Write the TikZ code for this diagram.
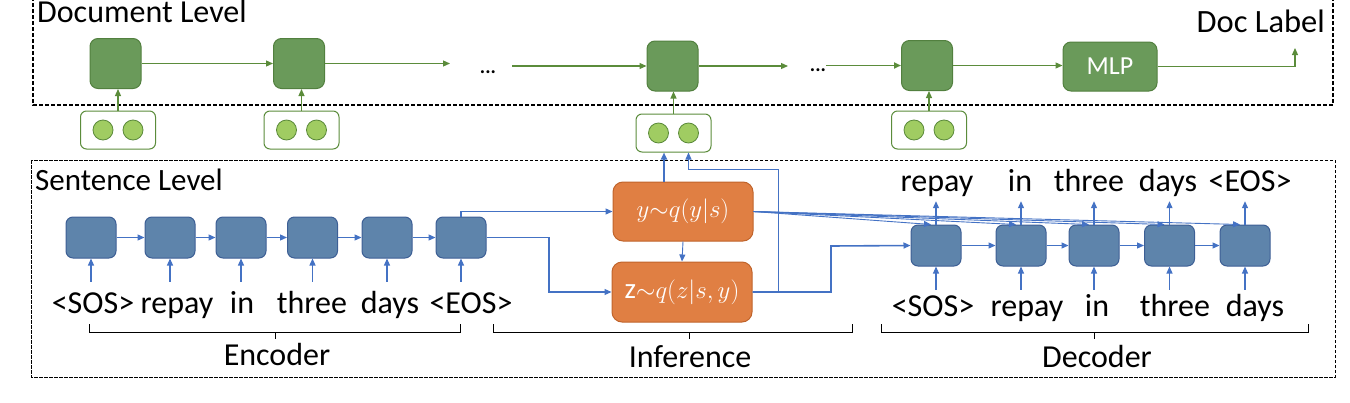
\documentclass[tikz,border=0pt]{standalone}
\usepackage{fontspec}
\setmainfont{Carlito}
\usetikzlibrary{arrows.meta,calc}
\definecolor{bfill}{HTML}{5E84AB}
\definecolor{bdraw}{HTML}{3D5F95}
\definecolor{aline}{HTML}{4472C4}
\definecolor{gfill}{HTML}{6A9A5A}
\definecolor{gdraw}{HTML}{52803F}
\definecolor{gline}{HTML}{5B8C3B}
\definecolor{cfill}{HTML}{A0CC62}
\definecolor{cdraw}{HTML}{5B8A3A}
\definecolor{ofill}{HTML}{E07F43}
\definecolor{odraw}{HTML}{C0642B}
\begin{document}
\begin{tikzpicture}[x=1pt,y=-1pt,
  bbox/.style={draw=bdraw, fill=bfill, rounded corners=7pt, minimum width=50pt, minimum height=41pt, line width=1pt, inner sep=0pt},
  gbox/.style={draw=gdraw, fill=gfill, rounded corners=8pt, minimum width=51pt, minimum height=50pt, line width=1pt, inner sep=0pt},
  grp/.style={draw=gline, fill=white, rounded corners=6pt, minimum width=75pt, minimum height=38pt, line width=1pt, inner sep=0pt},
  dot/.style={circle, draw=cdraw, fill=cfill, minimum size=20pt, inner sep=0pt, line width=0.8pt},
  obox/.style={draw=odraw, fill=ofill, rounded corners=10pt, minimum width=140pt, minimum height=59pt, text=white, font=\fontsize{29}{32}\selectfont, inner sep=0pt, line width=1pt},
  word/.style={font=\fontsize{32}{38}\selectfont, inner sep=0pt, text height=23pt, text depth=8pt, anchor=base},
  title/.style={font=\fontsize{32}{38}\selectfont, inner sep=0pt},
  dots/.style={font=\fontsize{20}{24}\selectfont\bfseries, inner sep=0pt, anchor=base},
  barrow/.style={draw=aline, line width=1.2pt, -{Triangle[length=7pt,width=6pt]}},
  thin barrow/.style={draw=aline, line width=0.9pt, -{Triangle[length=7pt,width=6pt]}},
  garrow/.style={draw=gline, line width=1.2pt, -{Triangle[length=7pt,width=6pt]}},
  brc/.style={draw=black, line width=1pt},
  docframe/.style={draw=black, line width=1.4pt, dash pattern=on 4pt off 2pt},
  sentframe/.style={draw=black, line width=0.9pt, dash pattern=on 3.5pt off 1.5pt}
]
\useasboundingbox (0,0) rectangle (1350,402);

% frames
\draw[docframe] (33,-3) -- (33,105) -- (1333,105) -- (1333,-3);
\draw[sentframe] (31,160) rectangle (1335,377);
\node[title, anchor=base west, font=\fontsize{32}{38}\selectfont] (doclvl) at (37,22.5) {Document Level};
\node[title, anchor=base west, font=\fontsize{31}{38}\selectfont] (sentlvl) at (35,190) {Sentence Level};
\node[title, anchor=base east, font=\fontsize{32.5}{38}\selectfont] (doclab) at (1325,32) {Doc Label};

% document level
\node[gbox] (b1) at (115.5,63.5) {};
\node[gbox] (b2) at (299,63.5) {};
\node[gbox] (b3) at (672.5,66) {};
\node[gbox] (b4) at (927,65.5) {};
\node[gbox, minimum width=94pt, minimum height=49pt, text=white, font=\fontsize{26}{30}\selectfont] (mlp) at (1110,66.5) {MLP};
\node[dots] (el1) at (488,73) {...};
\node[dots] (el2) at (818,71) {...};
\coordinate (de1) at (450,63.5);
\coordinate (ds1) at (512,66);
\coordinate (de2) at (788,66);
\coordinate (ds2) at (826,65.5);
\coordinate (lab) at (1295,48);

\draw[garrow] (b1.east) -- (b2.west);
\draw[garrow] (b2.east) -- (b2.east -| de1);
\draw[garrow] (ds1 |- b3.west) -- (b3.west);
\draw[garrow] (b3.east) -- (b3.east -| de2);
\draw[garrow, line width=1.8pt] (ds2 |- b4.west) -- (b4.west);
\draw[garrow] (b4.east) -- (b4.east -| mlp.west);
\draw[garrow] (mlp.east) -| (lab);

% circle groups
\foreach \n/\x/\y in {1/118/130, 2/301.5/130, 3/673.5/133, 4/929/130}{
  \node[grp] (g\n) at (\x,\y) {};
  \node[dot] (g\n a) at (\x-15,\y) {};
  \node[dot] (g\n b) at (\x+15,\y) {};
}
\draw[garrow] (g1.north) -- (g1.north |- b1.south);
\draw[garrow] (g2.north) -- (g2.north |- b2.south);
\draw[garrow] (g3.north) -- (g3.north |- b3.south);
\draw[garrow] (g4.north) -- (g4.north |- b4.south);

% encoder
\foreach \n/\x in {1/91, 2/170, 3/241, 4/312.5, 5/387, 6/461}{
  \node[bbox] (e\n) at (\x,237.5) {};
}
\foreach \i/\j in {1/2,2/3,3/4,4/5,5/6}{
  \draw[barrow] (e\i.east) -- (e\j.west);
}
\node[word] (ew1) at (93,313) {\textless SOS\textgreater};
\node[word] (ew2) at (177,313) {repay};
\node[word] (ew3) at (242,313) {in};
\node[word] (ew4) at (312,313) {three};
\node[word] (ew5) at (390,313) {days};
\node[word] (ew6) at (471,313) {\textless EOS\textgreater};
\foreach \n in {1,...,6}{
  \draw[barrow, shorten <=8pt] (e\n.south |- ew\n.north) -- (e\n.south);
}
\draw[brc] (89,324) -- (89,332) -- (460,332) -- (460,324);
\draw[brc] (275,332) -- (275,339);
\node[word] (enc) at (277,365) {Encoder};

% inference
\node[obox] (yq) at (683,211.5) {$y{\sim}q(y|s)$};
\node[obox, minimum height=60pt] (zq) at (682,292) {$\mathrm{z}{\sim}q(z|s,y)$};
\coordinate (c2) at (549,237);
\coordinate (c1) at (778,169);
\coordinate (c3) at (831,246);
\coordinate (ya) at (664,182);
\draw[barrow] (e6.north) |- (yq.west);
\draw[barrow] (e6.east) -- (e6.east -| c2) |- (zq.west);
\draw[thin barrow] (yq.south) -- (zq.north);
\draw[barrow, line width=1.8pt] (yq.north -| ya) -- (g3.south -| ya);
\draw[thin barrow] (zq.east) -| (c1) -| (g3b |- g3.south);
\draw[brc] (493,324) -- (493,332) -- (852,332) -- (852,324);
\draw[brc] (689,332) -- (689,339);
\node[word] (inf) at (690,367) {Inference};

% decoder
\foreach \n/\x in {1/936, 2/1021, 3/1094, 4/1169.5, 5/1245}{
  \node[bbox] (d\n) at (\x,245.5) {};
}
\foreach \i/\j in {1/2,2/3,3/4,4/5}{
  \draw[barrow] (d\i.east) -- (d\j.west);
}
\draw[barrow, line width=1.6pt] (zq.east) -| (c3) -- (d1.west);
\foreach \n in {1,...,5}{
  \draw[thin barrow] (yq.east) -- ($(d\n.north)+(-5,0)$);
}
\node[word] (ow1) at (937,191) {repay};
\node[word] (ow2) at (1020,191) {in};
\node[word] (ow3) at (1089,191) {three};
\node[word] (ow4) at (1168,191) {days};
\node[word] (ow5) at (1250,191) {\textless EOS\textgreater};
\foreach \n in {1,...,5}{
  \draw[barrow, shorten >=2pt] (d\n.north) -- (d\n.north |- ow\n.south);
}
\node[word] (iw1) at (933,316.5) {\textless SOS\textgreater};
\node[word] (iw2) at (1027,316.5) {repay};
\node[word] (iw3) at (1097,316.5) {in};
\node[word] (iw4) at (1175,316.5) {three};
\node[word] (iw5) at (1255,316.5) {days};
\foreach \n in {1,...,5}{
  \draw[barrow, shorten <=3.5pt] (d\n.south |- iw\n.north) -- (d\n.south);
}
\draw[brc] (881,324) -- (881,332) -- (1308,332) -- (1308,324);
\draw[brc] (1094,332) -- (1094,339);
\node[word] (dec) at (1097,367) {Decoder};
\end{tikzpicture}
\end{document}
